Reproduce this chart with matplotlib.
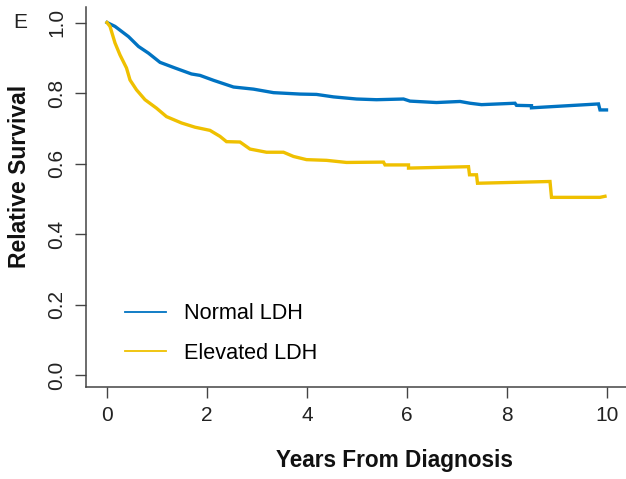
import matplotlib
matplotlib.use("Agg")
import matplotlib.pyplot as plt
from matplotlib.lines import Line2D

plt.rcParams['font.family'] = ['Liberation Sans', 'DejaVu Sans']

# Relative survival (years, survival)
normal_years = [0, 0.16, 0.43, 0.63, 0.83, 1.06, 1.36, 1.69, 1.86, 2.13, 2.53, 2.93,
                3.33, 3.86, 4.19, 4.53, 4.99, 5.39, 5.93, 6.06, 6.59, 7.06, 7.26,
                7.49, 8.16, 8.19, 8.49, 8.49, 9.83, 9.86, 9.99]
normal_surv = [1.0, 0.989, 0.96, 0.932, 0.913, 0.887, 0.871, 0.854, 0.850, 0.836,
               0.817, 0.811, 0.801, 0.797, 0.796, 0.789, 0.783, 0.781, 0.783, 0.777,
               0.773, 0.776, 0.771, 0.767, 0.771, 0.765, 0.764, 0.758, 0.769, 0.752,
               0.752]

elevated_years = [0, 0.06, 0.16, 0.26, 0.39, 0.46, 0.59, 0.76, 0.99, 1.19, 1.49, 1.76,
                  2.06, 2.26, 2.39, 2.66, 2.86, 3.19, 3.53, 3.73, 3.99, 4.39, 4.79,
                  5.53, 5.56, 6.03, 6.03, 7.23, 7.25, 7.39, 7.41, 8.86, 8.89, 9.86,
                  9.96]
elevated_surv = [1.0, 0.989, 0.942, 0.908, 0.871, 0.837, 0.809, 0.781, 0.757, 0.733,
                 0.715, 0.703, 0.694, 0.677, 0.662, 0.661, 0.641, 0.632, 0.632, 0.620,
                 0.611, 0.609, 0.603, 0.604, 0.596, 0.596, 0.587, 0.591, 0.568, 0.568,
                 0.544, 0.549, 0.504, 0.504, 0.507]

labels = ["Normal LDH", "Elevated LDH"]
colors = ["#0073C2", "#EFC000"]
x_ticks = [0, 2, 4, 6, 8, 10]
y_ticks = [0.0, 0.2, 0.4, 0.6, 0.8, 1.0]

W, H = 626, 479
fig = plt.figure(figsize=(W / 100, H / 100), dpi=100)
ax = fig.add_axes([86 / W, 1 - 387 / H, 540 / W, 380 / H])

ax.plot(normal_years, normal_surv, color=colors[0], lw=2.4, solid_joinstyle='miter')
ax.plot(elevated_years, elevated_surv, color=colors[1], lw=2.4, solid_joinstyle='miter')

ax.set_xlim(-0.42, 10.38)
ax.set_ylim(-0.034, 1.044)
ax.set_xticks(x_ticks)
ax.set_xticklabels([str(t) for t in x_ticks])
ax.set_yticks(y_ticks)
ax.set_yticklabels([f"{t:.1f}" for t in y_ticks], rotation=90, va='center')

for side in ['top', 'right']:
    ax.spines[side].set_visible(False)
for side in ['left', 'bottom']:
    ax.spines[side].set_color('#444444')
    ax.spines[side].set_linewidth(1.1)
ax.tick_params(direction='out', length=8, width=1.0, color='#444444',
               labelsize=15, labelcolor='#222222', pad=6)

fig.text(394 / W, 1 - 461 / H, "Years From Diagnosis", ha='center', va='center',
         fontsize=16.3, fontweight='bold', color='#111111')
fig.text(20 / W, 1 - 176 / H, "Relative Survival", ha='center', va='center',
         rotation=90, fontsize=16.5, fontweight='bold', color='#111111')
fig.text(20 / W, 1 - 23 / H, "E", ha='center', va='center', fontsize=15, color='#222222')

handles = [Line2D([], [], color=c, lw=1.3) for c in colors]
ax.legend(handles, labels, loc='upper left', bbox_to_anchor=(0.056, 0.243),
          frameon=False, fontsize=15.6, handlelength=1.9, handletextpad=0.85,
          labelspacing=0.85, borderaxespad=0)

fig.savefig("out.png", dpi=100)
